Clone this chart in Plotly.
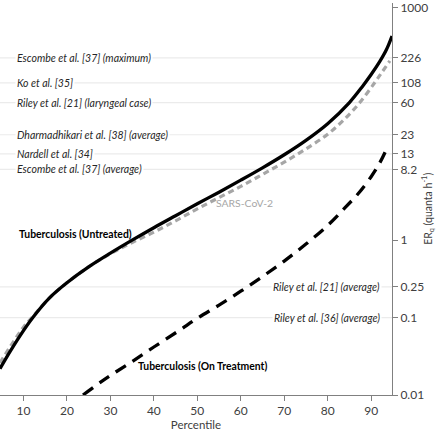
import numpy as np
import plotly.graph_objects as go

# Tuberculosis (untreated) - solid black
pct_untreated = [4.6, 6.9, 9.2, 12.2, 16, 20, 25, 30, 35, 40, 45, 50, 55, 60, 65, 70, 75, 80, 85,
                 88, 90, 92, 93.5, 94.8]
er_untreated = [0.0219, 0.0363, 0.0582, 0.101, 0.18, 0.282, 0.452, 0.68, 1.0, 1.45, 2.07, 2.95, 4.17,
                5.96, 8.6, 12.7, 19.5, 32, 60, 97, 138, 204, 288, 434]

# SARS-CoV-2 - grey dashed
pct_sars = [4.6, 7.6, 10, 12.2, 16, 20, 25, 30, 35, 40, 45, 50, 55, 60, 65, 70, 75, 80, 84,
            87.4, 90.8, 92.5, 94.3]
er_sars = [0.026, 0.048, 0.075, 0.104, 0.18, 0.282, 0.452, 0.668, 0.933, 1.27, 1.78, 2.54, 3.55,
           4.95, 7.08, 10.2, 15.1, 23.4, 37.2, 60, 108, 148, 207]

# Tuberculosis (on treatment) - black dashed
pct_treated = [23.7, 29, 34.3, 40, 45.8, 50, 55, 60, 65, 70, 75, 80, 84, 87, 90, 92, 93.9]
er_treated = [0.01, 0.0164, 0.0255, 0.0417, 0.068, 0.098, 0.145, 0.219, 0.339, 0.537, 0.891,
              1.55, 2.63, 3.98, 6.61, 10, 16.6]

# reference studies
ref_left = ["Escombe et al. [37] (maximum)", "Ko et al. [35]", "Riley et al. [21] (laryngeal case)",
            "Dharmadhikari et al. [38] (average)", "Nardell et al. [34]", "Escombe et al. [37] (average)"]
ref_left_vals = [226, 108, 60, 23, 13, 8.2]
ref_right = ["Riley et al. [21] (average)", "Riley et al. [36] (average)"]
ref_right_vals = [0.25, 0.1]

ytick_vals = [0.01, 0.1, 0.25, 1, 8.2, 13, 23, 60, 108, 226, 1000]
ytick_text = ["0.01", "0.1", "0.25", "1", "8.2", "13", "23", "60", "108", "226", "1000"]
xtick_vals = [10, 20, 30, 40, 50, 60, 70, 80, 90]

X_RANGE = [4.6, 94.8]
Y_RANGE = [-2, 3.064]
FONT = "Lato"

fig = go.Figure()

# faint lines at the literature values
for v in ref_left_vals + ref_right_vals:
    fig.add_trace(go.Scatter(x=X_RANGE, y=[v, v], mode="lines",
                             line=dict(color="#ebebeb", width=1.2),
                             hoverinfo="skip", showlegend=False))

fig.add_trace(go.Scatter(x=pct_sars, y=er_sars, mode="lines", line_shape="spline",
                         line=dict(color="#a6a6a6", width=3.2, dash="6px,4px"),
                         name="SARS-CoV-2"))
fig.add_trace(go.Scatter(x=pct_untreated, y=er_untreated, mode="lines", line_shape="spline",
                         line=dict(color="black", width=3.3),
                         name="Tuberculosis (Untreated)"))
fig.add_trace(go.Scatter(x=pct_treated, y=er_treated, mode="lines", line_shape="spline",
                         line=dict(color="black", width=3.3, dash="12px,8px"),
                         name="Tuberculosis (On Treatment)"))

annotations = []
for txt, v in zip(ref_left, ref_left_vals):
    annotations.append(dict(x=8.0, y=np.log10(v), text="<i>" + txt + "</i>", xanchor="left",
                            showarrow=False, bgcolor="white", borderpad=1,
                            font=dict(family=FONT, size=10.5, color="#262626")))
for txt, v in zip(ref_right, ref_right_vals):
    annotations.append(dict(x=92.4, y=np.log10(v), text="<i>" + txt + "</i>", xanchor="right",
                            showarrow=False, bgcolor="white", borderpad=1,
                            font=dict(family=FONT, size=10.5, color="#262626")))

annotations.append(dict(x=21.9, y=np.log10(1.2), text="<b>Tuberculosis (Untreated)</b>",
                        showarrow=False, font=dict(family=FONT, size=10.4, color="black")))
annotations.append(dict(x=51.1, y=np.log10(0.0238), text="<b>Tuberculosis (On Treatment)</b>",
                        showarrow=False, font=dict(family=FONT, size=10.4, color="black")))
annotations.append(dict(x=60.9, y=np.log10(3.0), text="SARS-CoV-2",
                        showarrow=False, font=dict(family=FONT, size=10.4, color="#a6a6a6")))

# y axis title, placed by hand to the right of the tick labels
annotations.append(dict(xref="paper", yref="paper", x=1.092, y=0.475, textangle=-90,
                        xanchor="center", yanchor="middle",
                        text="ER<sub>q</sub> (quanta h<sup>-1</sup>)", showarrow=False,
                        font=dict(family=FONT, size=10.5, color="#404040")))

fig.update_layout(
    width=440, height=434,
    margin=dict(l=0, r=48, t=0, b=39),
    paper_bgcolor="white", plot_bgcolor="white",
    showlegend=False,
    font=dict(family=FONT, size=12, color="#404040"),
    annotations=annotations,
    xaxis=dict(range=X_RANGE, tickvals=xtick_vals, ticks="outside", ticklen=5,
               tickcolor="#808080", showline=True, linecolor="#808080", linewidth=1,
               showgrid=False, zeroline=False,
               title=dict(text="Percentile", standoff=2, font=dict(size=11.5)),
               tickfont=dict(size=12)),
    yaxis=dict(type="log", side="right", range=Y_RANGE, tickvals=ytick_vals, ticktext=ytick_text,
               ticks="outside", ticklen=5, tickcolor="#808080", showline=True,
               linecolor="#808080", linewidth=1, showgrid=False, zeroline=False,
               ticklabeloverflow="allow", tickfont=dict(size=12)),
)

fig.write_html("out.html", config={"displayModeBar": False},
               post_script="document.body.style.margin='0';")
